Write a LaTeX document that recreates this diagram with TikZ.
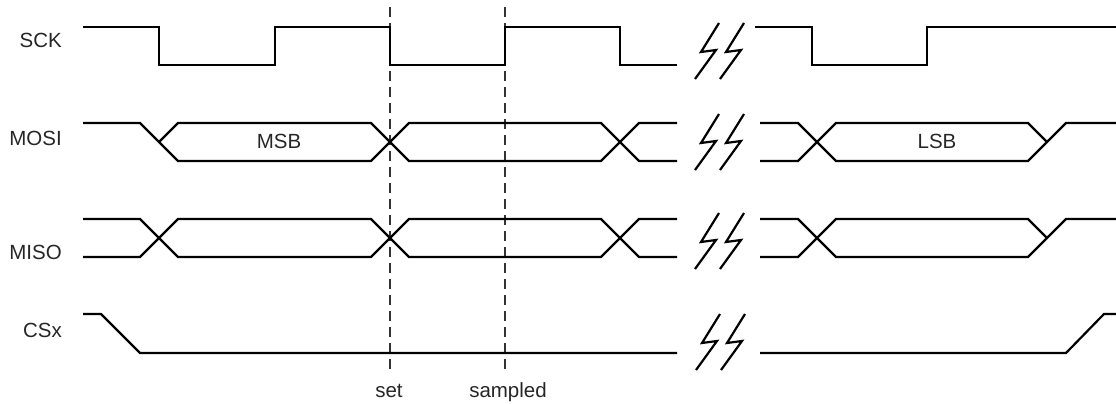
\documentclass[tikz,border=0pt]{standalone}
\usepackage{fontspec}
\setmainfont{Liberation Sans}
\begin{document}
\begin{tikzpicture}[x=1pt,y=-1pt,
  sig/.style={line width=2.2pt, line join=miter, black},
  guide/.style={line width=1.1pt, dash pattern=on 10pt off 6pt, black!80},
  lbl/.style={inner sep=0pt, font=\fontsize{20.5}{24}\selectfont, text=black!85},
  brk/.pic={\draw[sig] (0,-28) -- (-18,1) -- (-3,-1) -- (-24,28);
            \draw[sig] (25,-28) -- (7,1) -- (22,-1) -- (1,28);}]
\useasboundingbox (0,0) rectangle (1116,404);

% guides
\draw[guide] (390,7) -- (390,373);
\draw[guide] (505,7) -- (505,373);

% SCK
\draw[sig] (83,27) -- (159,27) -- (159,65) -- (275,65) -- (275,27) -- (390,27) -- (390,65) -- (505,65) -- (505,27) -- (620,27) -- (620,65) -- (677,65);
\draw[sig] (755,27) -- (812,27) -- (812,65) -- (927,65) -- (927,27) -- (1117,27);

% MOSI
\draw[sig] (83,123) -- (140,123) -- (178,161) -- (371,161) -- (409,123) -- (601,123) -- (639,161) -- (677,161);
\draw[sig] (159,142) -- (178,123) -- (371,123) -- (409,161) -- (601,161) -- (639,123) -- (677,123);
\draw[sig] (760,123) -- (798,123) -- (836,161) -- (1028,161) -- (1066,123) -- (1117,123);
\draw[sig] (760,161) -- (798,161) -- (836,123) -- (1028,123) -- (1047,142);

% MISO
\draw[sig] (83,219) -- (140,219) -- (178,257) -- (371,257) -- (409,219) -- (601,219) -- (639,257) -- (677,257);
\draw[sig] (83,257) -- (140,257) -- (178,219) -- (371,219) -- (409,257) -- (601,257) -- (639,219) -- (677,219);
\draw[sig] (760,219) -- (798,219) -- (836,257) -- (1028,257) -- (1066,219) -- (1117,219);
\draw[sig] (760,257) -- (798,257) -- (836,219) -- (1028,219) -- (1047,238);

% CSx
\draw[sig] (83,314) -- (101,314) -- (140,353) -- (677,353);
\draw[sig] (760,353) -- (1066,353) -- (1104,314) -- (1117,314);

% breaks
\pic at (719,51) {brk};
\pic at (719,142) {brk};
\pic at (719,241) {brk};
\pic at (720,342) {brk};

% labels
\node[lbl, anchor=base east] (lsck) at (62,48) {SCK};
\node[lbl, anchor=base east] (lmosi) at (62,145) {MOSI};
\node[lbl, anchor=base east] (lmiso) at (62,259) {MISO};
\node[lbl, anchor=base east] (lcsx) at (62,337) {CSx};
\node[lbl, anchor=base] (msb) at (279,148.5) {MSB};
\node[lbl, anchor=base] (lsb) at (937,148.5) {LSB};
\node[lbl, anchor=base] (set) at (389,397) {set};
\node[lbl, anchor=base] (sampled) at (508,397) {sampled};
\end{tikzpicture}
\end{document}
